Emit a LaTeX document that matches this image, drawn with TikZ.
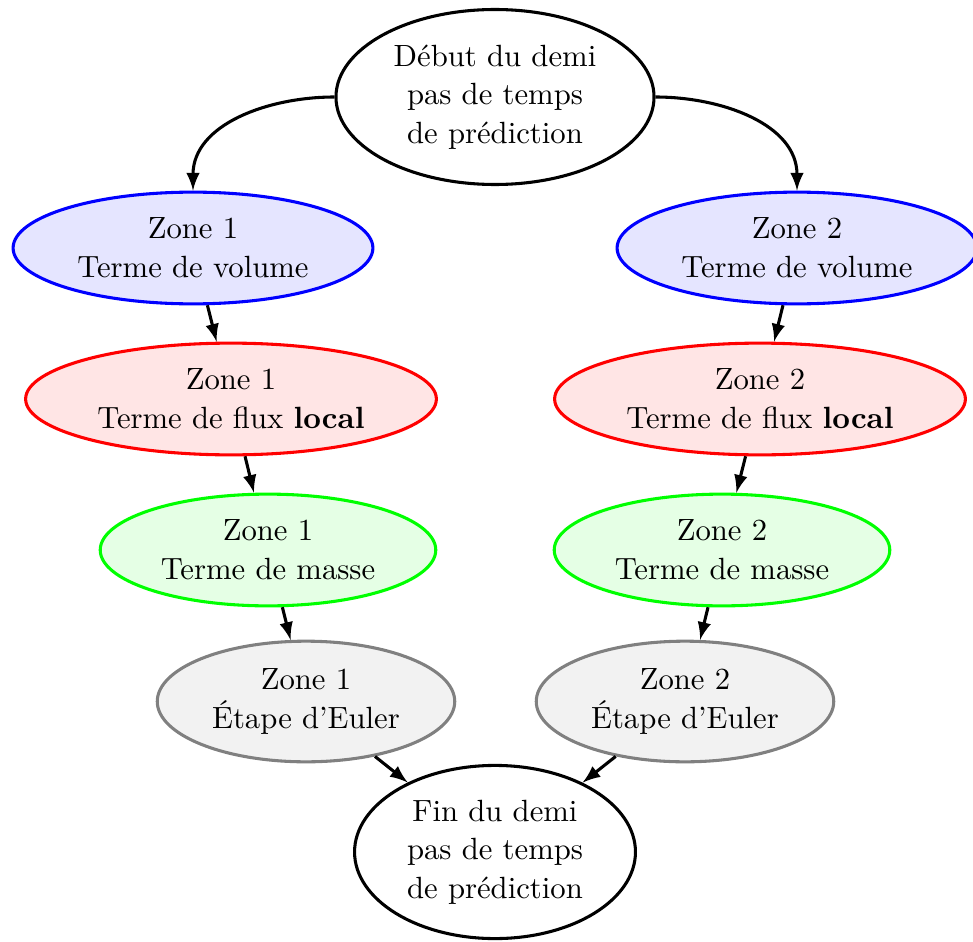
\documentclass[tikz,border=0pt]{standalone}
\usetikzlibrary{shapes.geometric,arrows}
\begin{document}
\begin{tikzpicture}[x=0.32573pt,y=-0.32573pt,
  base/.style={ellipse,draw,line width=1pt,inner sep=0pt,align=center,
    font=\fontsize{10}{12.6}\selectfont},
  endsbox/.style={base,draw=black,fill=white,minimum width=103.6pt,minimum height=57pt},
  finbox/.style={base,draw=black,fill=white,minimum width=91.5pt,minimum height=56.4pt},
  volbox/.style={base,draw=blue,fill=blue!10,minimum width=117.2pt,minimum height=36.4pt},
  fluxbox/.style={base,draw=red,fill=red!10,minimum width=133.8pt,minimum height=36.4pt},
  massbox/.style={base,draw=green,fill=green!10,minimum width=109.3pt,minimum height=36.4pt},
  eulerbox/.style={base,draw=gray,fill=gray!10,minimum width=96.9pt,minimum height=39.3pt},
  conn/.style={-latex,line width=1pt}]
\useasboundingbox (0,0) rectangle (973,942);
\node[endsbox] (top) at (495,97) {Début du demi\\pas de temps\\de prédiction};
\node[volbox] (v1) at (193,248) {Zone 1\\Terme de volume};
\node[volbox] (v2) at (797,248) {Zone 2\\Terme de volume};
\node[fluxbox] (f1) at (231,399) {Zone 1\\Terme de flux \textbf{local}};
\node[fluxbox] (f2) at (760,399) {Zone 2\\Terme de flux \textbf{local}};
\node[massbox] (m1) at (268,550) {Zone 1\\Terme de masse};
\node[massbox] (m2) at (722,550) {Zone 2\\Terme de masse};
\node[eulerbox] (e1) at (306,701.5) {Zone 1\\Étape d'Euler};
\node[eulerbox] (e2) at (685,701.5) {Zone 2\\Étape d'Euler};
\node[finbox] (fin) at (495,852) {Fin du demi\\pas de temps\\de prédiction};
\draw[conn] (top.west) to[out=180,in=90] (v1.north);
\draw[conn] (top.east) to[out=0,in=90] (v2.north);
\draw[conn] (v1) -- (f1);
\draw[conn] (f1) -- (m1);
\draw[conn] (m1) -- (e1);
\draw[conn] (e1) -- (fin);
\draw[conn] (v2) -- (f2);
\draw[conn] (f2) -- (m2);
\draw[conn] (m2) -- (e2);
\draw[conn] (e2) -- (fin);
\end{tikzpicture}
\end{document}
